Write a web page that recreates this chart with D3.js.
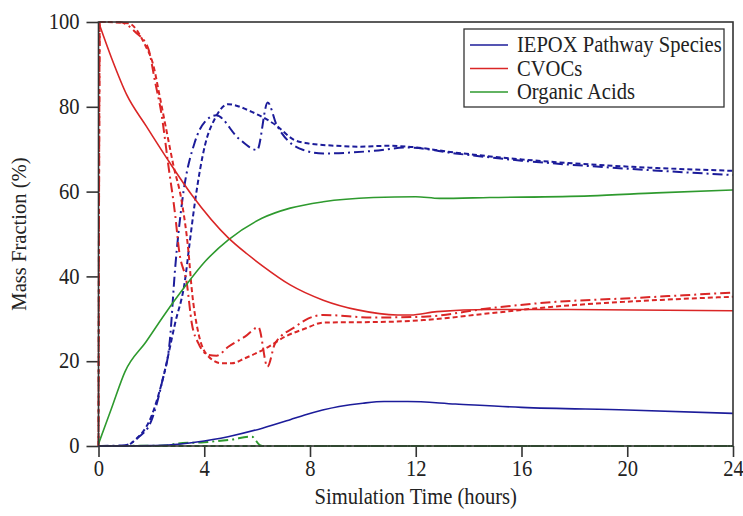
<!DOCTYPE html>
<html>
<head>
<meta charset="utf-8">
<script src="https://cdn.jsdelivr.net/npm/d3@7"></script>
<style>
  body { margin: 0; background: #fff; }
  svg text { font-family: "Liberation Serif", "Times New Roman", serif; fill: #222; }
</style>
</head>
<body>
<div id="chart" style="width:743px;height:516px;"></div>
<script>
// values: [hours, mass fraction %]
const xTicks = [0, 4, 8, 12, 16, 20, 24];
const yTicks = [0, 20, 40, 60, 80, 100];
const legendNames = ["IEPOX Pathway Species", "CVOCs", "Organic Acids"];

const iepoxSolid = [[0,0],[1,0],[2,0.1],[3,0.4],[3.65,0.9],[4.9,2.2],[6.2,4.2],[7.25,6.2],[7.8,7.3],[9.1,9.3],[10,10.1],[10.8,10.5],[11.7,10.5],[13.5,9.9],[16,9.1],[20,8.5],[24,7.7]];
const iepoxDash = [[0,0],[1,0],[1.4,1.5],[2,7],[2.4,15],[2.9,29],[3.27,39],[3.45,48],[3.65,57.6],[4.03,71],[4.41,77.3],[4.9,80.6],[5.8,78.8],[6.7,75.7],[7.4,72.2],[7.9,71.4],[9,70.8],[9.8,70.6],[11,70.8],[11.7,70.6],[13.5,69.2],[16,67.6],[18.6,66.4],[21,65.6],[24,64.9]];
const iepoxDashDot = [[0,0],[1,0.2],[1.5,2],[2,6],[2.4,15],[2.7,25],[2.9,42],[3.15,57],[3.65,71.8],[4.03,76.5],[4.45,78],[5.29,72.6],[6.0,69.8],[6.4,81],[6.74,75.7],[6.93,73.8],[7.75,69.8],[8.5,69],[10.4,69.6],[11.7,70.4],[13.5,69],[16,67.3],[18.6,66],[21,65],[24,63.9]];

const cvocSolid = [[0,100],[0.5,91.4],[1.07,82.8],[1.8,75.5],[2.58,67.9],[3.53,59.2],[4.91,49.1],[5.6,45.4],[6.2,42.5],[7.25,38],[8.5,34.4],[9.8,32.1],[11.3,30.9],[11.8,30.9],[12.8,31.7],[14.8,32.2],[17.3,32.2],[24,31.9]];
const cvocDash = [[0,0],[0.05,100],[1.13,99.7],[1.76,94.6],[2.07,89.9],[2.33,82],[2.58,74.1],[2.83,66.3],[3.15,57.6],[3.4,46],[3.53,36.8],[3.78,26.6],[4.16,21.1],[4.66,19.5],[5.04,19.5],[5.54,20.7],[6.43,23.4],[7.06,25.8],[7.82,27.7],[8.5,29.1],[11,29.3],[12.3,29.7],[14.8,31.3],[17.3,32.9],[19.9,34],[24,35.2]];
const cvocDashDot = [[0,0],[0.05,100],[0.8,100],[1.38,97.7],[1.88,93.8],[2.14,85.9],[2.39,78],[2.64,66.3],[2.9,54.5],[3.05,46],[3.34,38.4],[3.53,28.9],[3.78,24.2],[4.16,21.5],[4.47,21.3],[4.91,23.4],[5.54,25.8],[6.05,28],[6.39,18.7],[6.68,24.2],[7.44,28.1],[7.82,29.7],[8.5,30.9],[10.4,30.3],[12.3,30.5],[14.8,32.5],[17.3,34],[19.9,34.8],[24,36.2]];

const acidSolid = [[0,0.5],[0.5,9],[1.0,17.5],[1.8,24.6],[2.52,31.2],[3.27,37.6],[4.03,43.5],[4.91,48.6],[6.18,53.7],[7.25,56.1],[8.5,57.6],[10.4,58.6],[12,58.8],[12.9,58.4],[14.8,58.6],[18.6,59],[21.1,59.7],[24,60.4]];
const acidDash = [[0,0],[24,0]];
const acidDashDot = [[0,0],[2.5,0.1],[3,0.6],[4,0.9],[5,1.5],[5.8,2.2],[6.1,0.2],[6.2,0],[24,0]];

const colors = ["#1c1c9a", "#da2626", "#2e9a2e"];

const series = [
  { data: acidDash, c: 2, dash: "5,3" },
  { data: acidDashDot, c: 2, dash: "10,4,2,4" },
  { data: iepoxDash, c: 0, dash: "5,3" },
  { data: iepoxDashDot, c: 0, dash: "10,4,2,4" },
  { data: cvocDash, c: 1, dash: "5,3" },
  { data: cvocDashDot, c: 1, dash: "10,4,2,4" },
  { data: acidSolid, c: 2, dash: null },
  { data: cvocSolid, c: 1, dash: null },
  { data: iepoxSolid, c: 0, dash: null }
];

const width = 743, height = 516;
const margin = { top: 22, right: 10, bottom: 70, left: 98.5 };
const stretch = "scale(1,1.08)";
const fontSize = "20.6px";

const svg = d3.select("#chart").append("svg")
  .attr("width", width)
  .attr("height", height);

const x = d3.scaleLinear().domain([0, 24]).range([margin.left, width - margin.right]);
const y = d3.scaleLinear().domain([0, 100]).range([height - margin.bottom, margin.top]);

svg.append("clipPath").attr("id", "plotclip")
  .append("rect")
  .attr("x", x(0) - 2).attr("y", y(100) - 2)
  .attr("width", x(24) - x(0) + 4).attr("height", y(0) - y(100) + 4);

// Axes
const xAxis = svg.append("g")
  .attr("transform", `translate(0,${y(0)})`)
  .call(d3.axisBottom(x).tickValues(xTicks).tickSize(11).tickSizeOuter(0).tickPadding(4));
xAxis.selectAll("text")
  .attr("transform", stretch)
  .attr("y", 13.5)
  .style("font-size", fontSize);

const yAxis = svg.append("g")
  .attr("transform", `translate(${x(0)},0)`)
  .call(d3.axisLeft(y).tickValues(yTicks).tickSize(12).tickSizeOuter(0).tickPadding(7));
yAxis.selectAll("text")
  .attr("transform", stretch)
  .attr("dy", "0.3em")
  .style("font-size", fontSize);

[xAxis, yAxis].forEach(a => {
  a.select(".domain").remove();
  a.selectAll("line").attr("stroke", "#333").attr("stroke-width", 1.6);
});

// Lines
const line = d3.line()
  .x(d => x(d[0]))
  .y(d => y(d[1]))
  .curve(d3.curveMonotoneX);

svg.append("g")
  .attr("clip-path", "url(#plotclip)")
  .selectAll("path")
  .data(series)
  .join("path")
  .attr("d", d => line(d.data))
  .attr("fill", "none")
  .attr("stroke", d => colors[d.c])
  .attr("stroke-width", d => d.dash ? 2 : 1.6)
  .attr("stroke-dasharray", d => d.dash);

// Frame
svg.append("rect")
  .attr("x", x(0)).attr("y", y(100))
  .attr("width", x(24) - x(0)).attr("height", y(0) - y(100))
  .attr("fill", "none")
  .attr("stroke", "#333")
  .attr("stroke-width", 1.6);

// Axis titles
svg.append("text")
  .attr("transform", `translate(${(x(0) + x(24)) / 2},504) ${stretch}`)
  .attr("text-anchor", "middle")
  .style("font-size", fontSize)
  .text("Simulation Time (hours)");

svg.append("text")
  .attr("transform", `translate(26,${(y(0) + y(100)) / 2}) rotate(-90)`)
  .attr("text-anchor", "middle")
  .style("font-size", fontSize)
  .text("Mass Fraction (%)");

// Legend
const legend = svg.append("g").attr("transform", "translate(464,29)");
legend.append("rect")
  .attr("width", 260).attr("height", 78)
  .attr("fill", "#fff")
  .attr("stroke", "#333")
  .attr("stroke-width", 1.3);

legendNames.forEach((name, i) => {
  const lg = legend.append("g").attr("transform", `translate(0,${16 + i * 23.5})`);
  lg.append("line")
    .attr("x1", 6).attr("x2", 44)
    .attr("stroke", colors[i]).attr("stroke-width", 1.6);
  lg.append("text")
    .attr("transform", `translate(53,7) ${stretch}`)
    .style("font-size", fontSize)
    .text(name);
});
</script>
</body>
</html>
